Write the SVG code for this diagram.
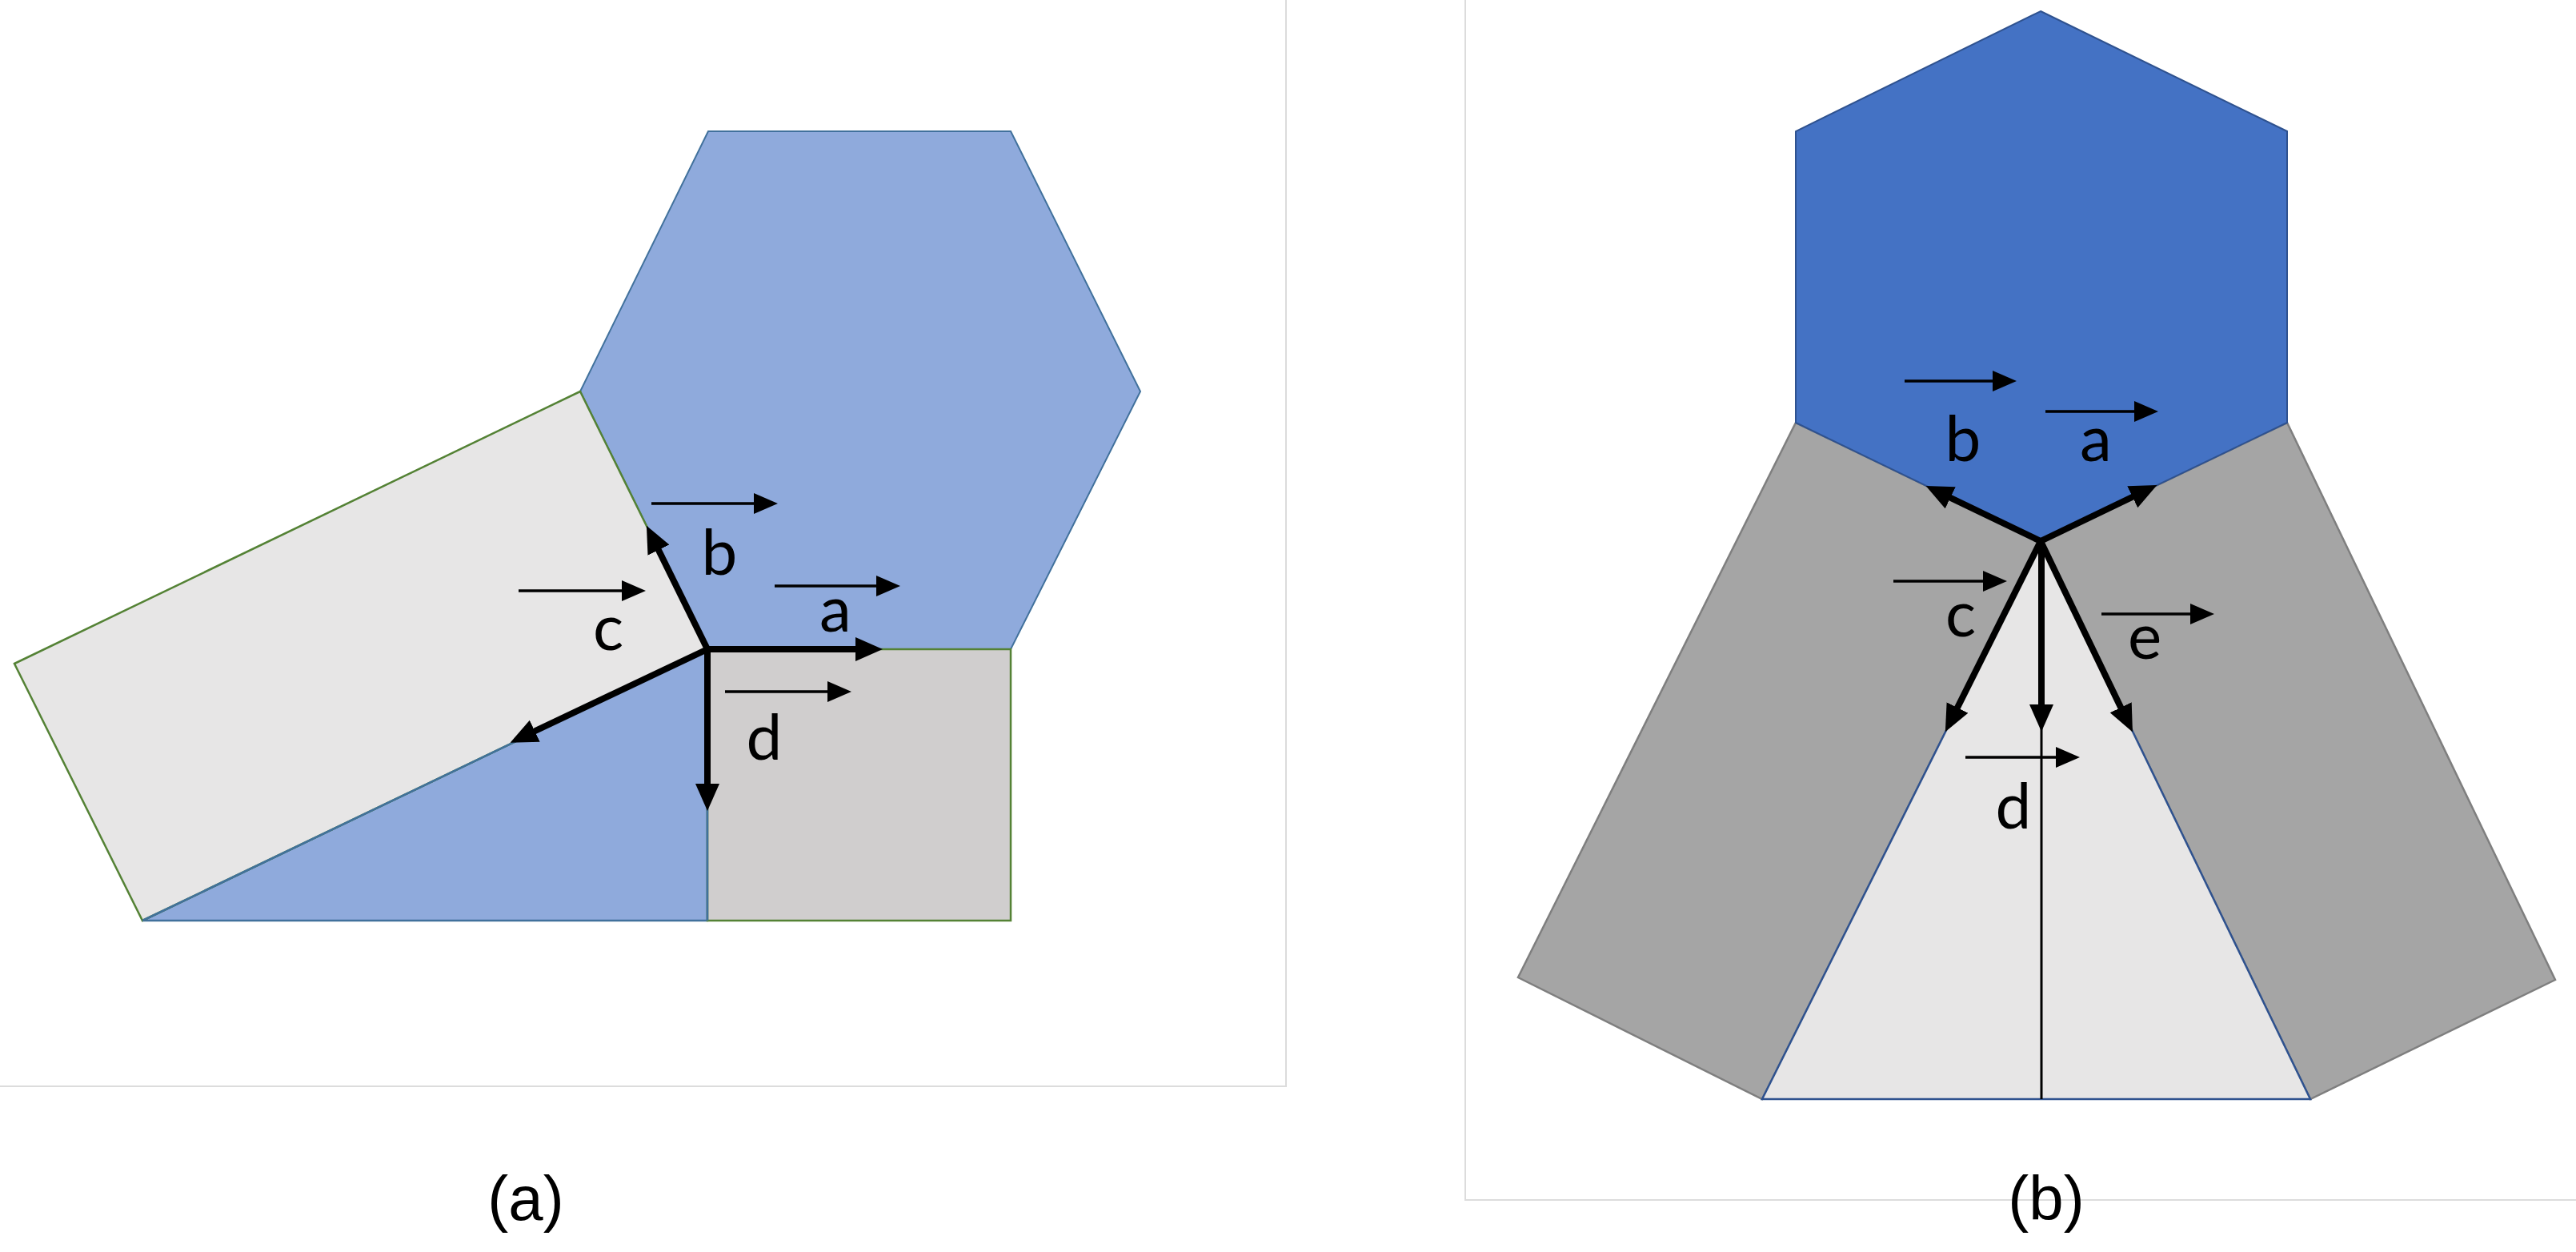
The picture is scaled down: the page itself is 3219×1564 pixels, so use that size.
<svg xmlns="http://www.w3.org/2000/svg" width="3219" height="1564" viewBox="0 0 3219 1564">
  <style>
    .lbl { font-family: Lato, "Open Sans", "Liberation Sans", sans-serif; font-size: 80px; fill: #000; text-anchor: middle; }
    .cap { font-family: "Liberation Sans", Arial, sans-serif; font-size: 78px; fill: #000; text-anchor: middle; }
    .thick { stroke: #000; stroke-width: 8; fill: none; marker-end: url(#bigHead); }
    .thin { stroke: #000; stroke-width: 3.5; fill: none; marker-end: url(#smallHead); }
    .frame { stroke: #dcdcdc; stroke-width: 2; fill: none; }
  </style>
  <defs>
    <marker id="bigHead" markerUnits="userSpaceOnUse" markerWidth="34" markerHeight="32" refX="18" refY="15" orient="auto">
      <path d="M0,0 L34,15 L0,30 z" fill="#000"/>
    </marker>
    <marker id="smallHead" markerUnits="userSpaceOnUse" markerWidth="30" markerHeight="28" refX="14" refY="13" orient="auto">
      <path d="M0,0 L30,13 L0,26 z" fill="#000"/>
    </marker>
  </defs>
  <rect x="0" y="0" width="3219" height="1564" fill="#ffffff"/>

  <!-- panel frames -->
  <g id="frames">
    <path class="frame" d="M1607,0 V1357 H0"/>
    <path class="frame" d="M1831,0 V1499 H3219"/>
  </g>

  <!-- Panel (a) -->
  <g id="a-hexagon">
    <polygon points="885,164 1263,164 1425,489 1263,811 884,811 725,489" fill="#8FAADC" stroke="#41719C" stroke-width="2"/>
  </g>
  <g id="a-triangle">
    <polygon points="884,811 884,1150 178,1150" fill="#8FAADC" stroke="#41719C" stroke-width="2.5"/>
  </g>
  <g id="a-square">
    <polygon points="884,811 1263,811 1263,1150 884,1150" fill="#D0CECE" stroke="#548235" stroke-width="2.5"/>
    <line x1="884" y1="1000" x2="884" y2="1150" stroke="#41719C" stroke-width="2.5"/>
  </g>
  <g id="a-rectangle">
    <polygon points="18,829 725,489 884,811 178,1150" fill="#E7E6E6" stroke="#548235" stroke-width="2.5"/>
    <line x1="884" y1="811" x2="178" y2="1150" stroke="#41719C" stroke-width="2.5"/>
  </g>

  <!-- Panel (b) -->
  <g id="b-left-gray">
    <polygon points="2244,528 2550,676 2202,1373 1897,1221" fill="#A5A5A5" stroke="#7F7F7F" stroke-width="2.5"/>
  </g>
  <g id="b-right-gray">
    <polygon points="2858,528 2550,676 2887,1373 3193,1224" fill="#A5A5A5" stroke="#7F7F7F" stroke-width="2.5"/>
  </g>
  <g id="b-hexagon">
    <polygon points="2550,14 2858,164 2858,528 2550,676 2244,528 2244,164" fill="#4472C4" stroke="#2F528F" stroke-width="2"/>
  </g>
  <g id="b-triangle">
    <polygon points="2550,676 2202,1373 2887,1373" fill="#E7E6E6" stroke="#2F528F" stroke-width="2.5"/>
    <line x1="2551" y1="900" x2="2551" y2="1373" stroke="#000" stroke-width="3"/>
  </g>

  <!-- connectors: arrows -->
  <g id="connectors">
    <!-- panel (a) thick -->
    <line class="thick" x1="884" y1="811" x2="1087" y2="811"/>
    <line class="thick" x1="884" y1="811" x2="815" y2="671"/>
    <line class="thick" x1="884" y1="811" x2="652" y2="921"/>
    <line class="thick" x1="884" y1="811" x2="884" y2="997"/>
    <!-- panel (a) thin -->
    <line class="thin" x1="814" y1="629" x2="956" y2="629"/>
    <line class="thin" x1="968" y1="732" x2="1109" y2="732"/>
    <line class="thin" x1="648" y1="738" x2="791" y2="738"/>
    <line class="thin" x1="906" y1="864" x2="1048" y2="864"/>
    <!-- panel (b) thick -->
    <line class="thick" x1="2550" y1="676" x2="2421" y2="614"/>
    <line class="thick" x1="2550" y1="676" x2="2681" y2="613"/>
    <line class="thick" x1="2550" y1="676" x2="2438" y2="900"/>
    <line class="thick" x1="2551" y1="676" x2="2551" y2="898"/>
    <line class="thick" x1="2550" y1="676" x2="2658" y2="900"/>
    <!-- panel (b) thin -->
    <line class="thin" x1="2380" y1="476" x2="2504" y2="476"/>
    <line class="thin" x1="2556" y1="514" x2="2681" y2="514"/>
    <line class="thin" x1="2366" y1="726" x2="2492" y2="726"/>
    <line class="thin" x1="2626" y1="767" x2="2751" y2="767"/>
    <line class="thin" x1="2456" y1="946" x2="2583" y2="946"/>
  </g>

  <!-- labels -->
  <g id="labels">
    <text class="lbl" x="899" y="718">b</text>
    <text class="lbl" x="1044" y="789">a</text>
    <text class="lbl" x="760" y="812">c</text>
    <text class="lbl" x="955" y="949">d</text>
    <text class="lbl" x="2453" y="576">b</text>
    <text class="lbl" x="2619" y="576">a</text>
    <text class="lbl" x="2450" y="795">c</text>
    <text class="lbl" x="2680" y="823">e</text>
    <text class="lbl" x="2516" y="1035">d</text>
    <text class="cap" x="657" y="1524">(a)</text>
    <text class="cap" x="2557" y="1524">(b)</text>
  </g>
</svg>
